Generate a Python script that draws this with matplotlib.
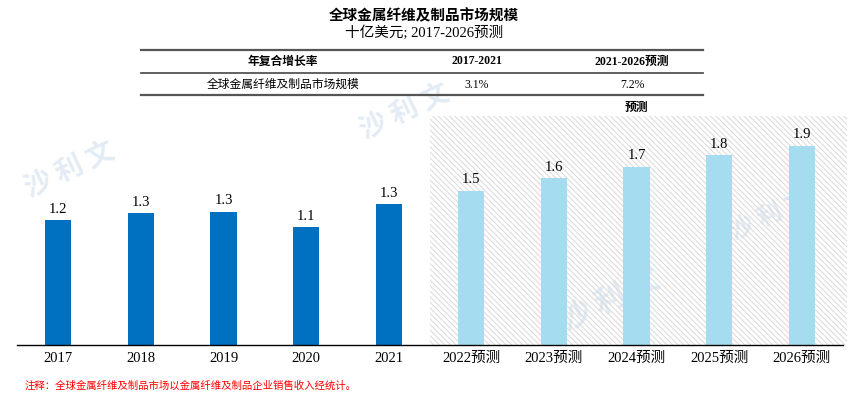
import matplotlib
matplotlib.use("Agg")
import matplotlib.pyplot as plt
from matplotlib.patches import Rectangle

years = ["2017", "2018", "2019", "2020", "2021",
         "2022预测", "2023预测", "2024预测", "2025预测", "2026预测"]
values = [1.19, 1.26, 1.27, 1.12, 1.34, 1.47, 1.59, 1.70, 1.81, 1.90]
labels = ["1.2", "1.3", "1.3", "1.1", "1.3", "1.5", "1.6", "1.7", "1.8", "1.9"]
n_hist = 5

title = "全球金属纤维及制品市场规模"
subtitle = "十亿美元; 2017-2026预测"
table_header = ["年复合增长率", "2017-2021", "2021-2026预测"]
table_row = ["全球金属纤维及制品市场规模", "3.1%", "7.2%"]
forecast_label = "预测"
note = "注释：全球金属纤维及制品市场以金属纤维及制品企业销售收入经统计。"

SERIF = ["Liberation Serif", "Noto Sans CJK SC"]
CJK = ["Noto Sans CJK SC", "DejaVu Sans"]

plt.rcParams['hatch.linewidth'] = 0.7

W, H = 848, 398
fig = plt.figure(figsize=(W / 100, H / 100), dpi=100)

def fx(px):
    return px / W

def fy(py):
    return 1 - py / H

# watermarks (behind)
wm_color = "#e3ecf5"
for (px, py, rot, fs) in [(70, 170, 25, 20), (405, 112, 25, 20), (610, 300, 25, 22), (770, 215, 25, 18)]:
    fig.text(fx(px), fy(py), "沙 利 文", family=CJK, fontsize=fs, color=wm_color,
             rotation=rot, ha="center", va="center", fontweight="bold", zorder=-5)

# main axes: x 17..843 px, y baseline 345, top 114
ax = fig.add_axes([fx(17), fy(345), fx(843) - fx(17), (345 - 114) / H])
ax.patch.set_alpha(0)
ax.set_xlim(-0.5, 9.5)
ax.set_ylim(0, 2.2)

# forecast hatched region
rect = Rectangle((4.5, 0), 5.05, 2.18, facecolor="none", edgecolor="#d9d9d9",
                 hatch="\\\\\\\\\\\\", linewidth=0, clip_on=False, zorder=0)
ax.add_patch(rect)

colors = ["#0070C0"] * n_hist + ["#A6DCF0"] * (len(values) - n_hist)
xs = list(range(len(values)))
ax.bar(xs, values, width=0.315, color=colors, zorder=2)
for x, v, lab in zip(xs, values, labels):
    ax.text(x, v + 0.04, lab, ha="center", va="bottom", fontsize=10.5,
            family=SERIF, color="#000000", zorder=3)

for s in ["top", "right", "left"]:
    ax.spines[s].set_visible(False)
ax.spines["bottom"].set_linewidth(1.0)
ax.spines["bottom"].set_color("#000000")
ax.set_yticks([])
ax.set_xticks(xs)
ax.set_xticklabels(years, family=SERIF, fontsize=10.5)
ax.tick_params(axis="x", length=0, pad=5)

ax.text(7.0, 2.205, forecast_label, ha="center", va="bottom", fontsize=8.5,
        family=CJK, fontweight="bold", style="italic", zorder=3)

# title
fig.text(0.5, fy(15), title, ha="center", va="center", fontsize=10.5, family=CJK,
         fontweight="bold")
fig.text(0.5, fy(33), subtitle, ha="center", va="center", fontsize=10.5, family=SERIF)

# table
tl, tr = 141, 703
for py, lw in [(50, 1.6), (73, 1.3), (95, 1.6)]:
    fig.add_artist(plt.Line2D([fx(tl), fx(tr)], [fy(py), fy(py)], color="#555555",
                              linewidth=lw))
col_x = [283, 477, 632]
for i, (h, r) in enumerate(zip(table_header, table_row)):
    fig.text(fx(col_x[i]), fy(61.5), h, ha="center", va="center", fontsize=8.5,
             family=SERIF, fontweight="bold")
    fig.text(fx(col_x[i]), fy(84.5), r, ha="center", va="center", fontsize=8.5,
             family=SERIF)

# note
fig.text(fx(25), fy(386), note, ha="left", va="center", fontsize=7.5, family=CJK,
         color="#FF0000", style="italic")

fig.savefig("out.png", dpi=100)
